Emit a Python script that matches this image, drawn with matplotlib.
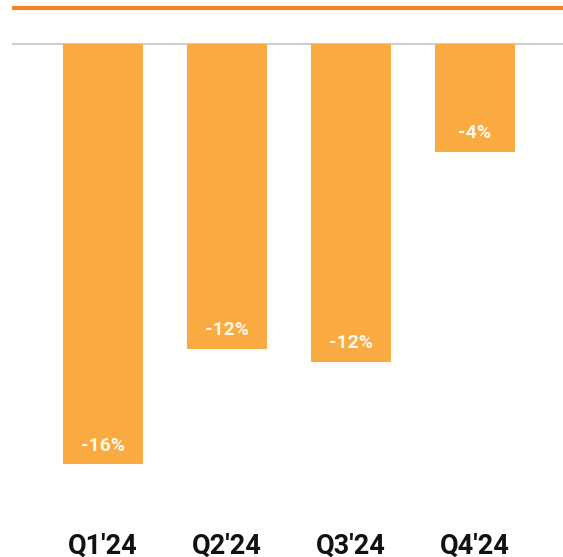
import matplotlib
matplotlib.use('Agg')
import matplotlib.pyplot as plt

# Quarterly change values (percent)
quarters = ["Q1'24", "Q2'24", "Q3'24", "Q4'24"]
values = [-16.0, -11.6, -12.1, -4.1]
labels = ["-16%", "-12%", "-12%", "-4%"]

bar_color = '#F9AB41'
top_line_color = '#F5821F'

plt.rcParams['font.family'] = ['Roboto', 'DejaVu Sans']

fig = plt.figure(figsize=(5.63, 5.57), dpi=100)
ax = fig.add_axes([12 / 563, 0, 551 / 563, 1])

x = range(len(quarters))
ax.bar(x, values, width=0.64, color=bar_color, zorder=2)

# baseline and top accent line
ax.axhline(0, color='#CFCFCF', lw=1.5, zorder=1)
ax.axhline(1.37, xmin=1 / 551, color=top_line_color, lw=3, zorder=3)

for xi, v, lab in zip(x, values, labels):
    ax.text(xi, v + 0.7, lab, ha='center', va='center', color='#FFF8EE',
            fontsize=14, fontweight='bold')

for xi, q in zip(x, quarters):
    ax.text(xi, -19.12, q, ha='center', va='center', color='#111111',
            fontsize=19.5, fontweight='bold')

ax.set_xlim(-0.734, 3.71)
ax.set_ylim(-19.54, 1.676)
ax.axis('off')

fig.savefig('out.png', dpi=100)
